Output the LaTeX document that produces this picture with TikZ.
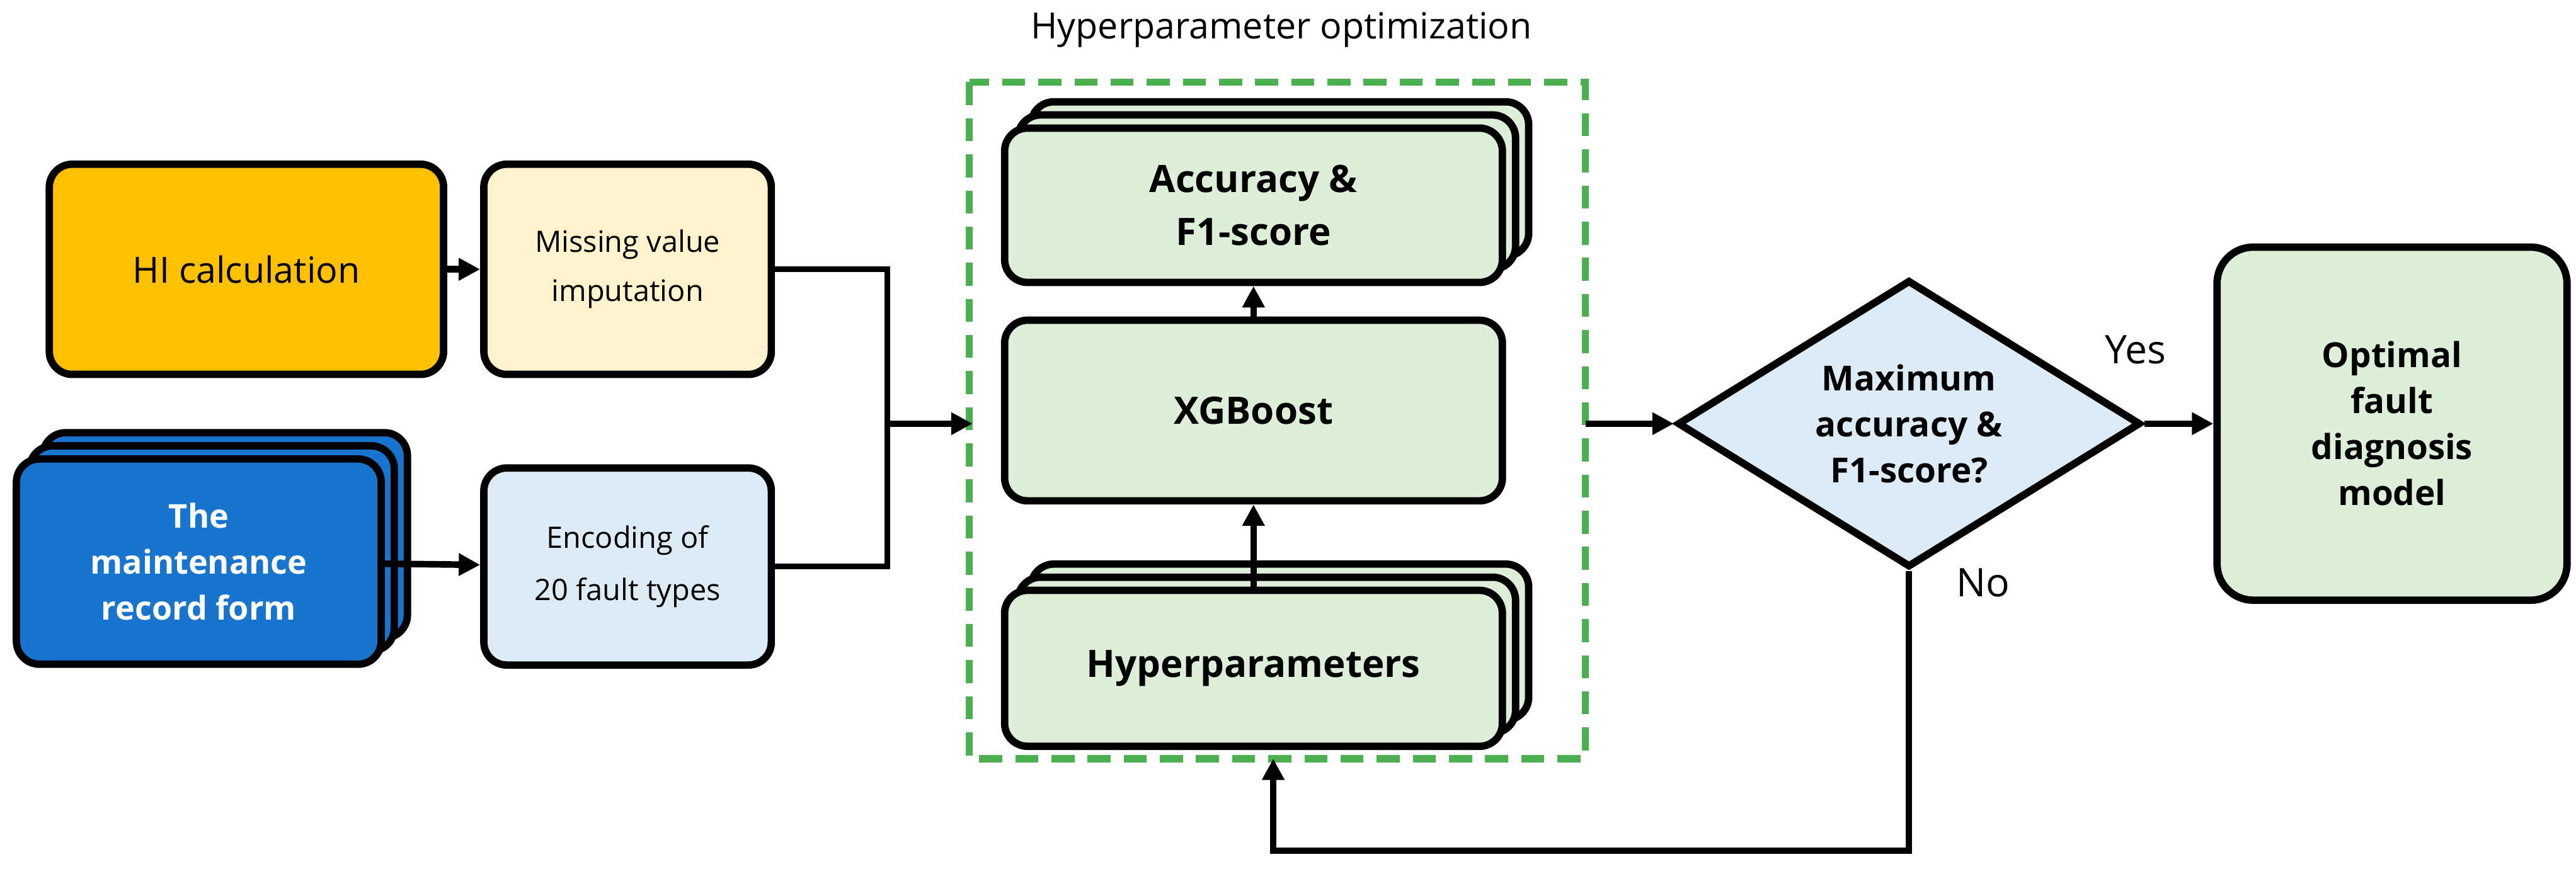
\documentclass[tikz,border=0pt]{standalone}
\usepackage{fontspec}
\setmainfont{Open Sans}
\usetikzlibrary{shapes.geometric,arrows.meta}
\definecolor{orng}{HTML}{FFC000}
\definecolor{cream}{HTML}{FFF2CC}
\definecolor{dblue}{HTML}{1874CD}
\definecolor{lblue}{HTML}{DDEBF7}
\definecolor{lgreen}{HTML}{DDEFD9}
\definecolor{dgreen}{HTML}{4CAF50}
\begin{document}
\begin{tikzpicture}[x=1pt,y=-1pt,
 box/.style={draw=black,line width=4.5pt,rounded corners=14pt,align=center,inner sep=2pt},
 arr/.style={line width=4pt,-{Triangle[length=13pt,width=13pt]}},
 ln/.style={line width=3.5pt}]
\useasboundingbox (0,0) rectangle (1568,532);
\node[font=\fontsize{22}{26}\selectfont] at (780,18) {Hyperparameter optimization};
\draw[dgreen,line width=4.5pt,dash pattern=on 14pt off 8pt] (590,50) rectangle (965,462);
% HI
\node[box,fill=orng,minimum width=240pt,minimum height=128pt,font=\fontsize{22}{26}\selectfont] (hi) at (150,164) {HI calculation};
\node[box,fill=cream,minimum width=175pt,minimum height=128pt,font=\fontsize{18}{30}\selectfont] (miss) at (382,164) {Missing value\\ imputation};
% maintenance stack
\foreach \d in {16,8}{\node[box,fill=dblue,minimum width=222pt,minimum height=125pt] at (121+\d,342-\d) {};}
\node[box,fill=dblue,text=white,font=\fontsize{20}{28}\selectfont\bfseries,minimum width=222pt,minimum height=125pt] (mr) at (121,342) {The\\ maintenance\\ record form};
\node[box,fill=lblue,minimum width=175pt,minimum height=120pt,font=\fontsize{18}{32}\selectfont] (enc) at (382,345) {Encoding of\\ 20 fault types};
% green stacks
\foreach \d in {16,8}{\node[box,fill=lgreen,minimum width=303pt,minimum height=94pt] at (763+\d,125-\d) {};}
\node[box,fill=lgreen,minimum width=303pt,minimum height=94pt,font=\fontsize{23}{32}\selectfont\bfseries] (acc) at (763,125) {Accuracy \&\\ F1-score};
\node[box,fill=lgreen,minimum width=303pt,minimum height=110pt,font=\fontsize{23}{30}\selectfont\bfseries] (xgb) at (763,250) {XGBoost};
\foreach \d in {16,8}{\node[box,fill=lgreen,minimum width=303pt,minimum height=95pt] at (763+\d,407-\d) {};}
\node[box,fill=lgreen,minimum width=303pt,minimum height=95pt,font=\fontsize{23}{30}\selectfont\bfseries] (hp) at (763,407) {Hyperparameters};
% diamond
\node[diamond,draw=black,line width=4.5pt,fill=lblue,minimum width=282pt,minimum height=175pt,inner sep=0pt,aspect=1.6] (dia) at (1162,258) {};
\node[align=center,font=\fontsize{21}{28}\selectfont\bfseries] at (1162,258) {Maximum\\ accuracy \&\\ F1-score?};
\node[box,fill=lgreen,minimum width=213pt,minimum height=215pt,rounded corners=22pt,font=\fontsize{21}{28}\selectfont\bfseries] (opt) at (1456,258) {Optimal\\ fault\\ diagnosis\\ model};
\node[font=\fontsize{24}{28}\selectfont] at (1300,213) {Yes};
\node[font=\fontsize{24}{28}\selectfont] at (1207,355) {No};
% connectors
\draw[arr] (hi) -- (miss);
\draw[arr] (mr) -- (enc);
\coordinate (j) at (540,258);
\coordinate (bin) at (592,258);
\draw[ln] (miss.east) -- (540,164) -- (j);
\draw[ln] (enc.east) -- (540,345) -- (j);
\draw[arr] (j) -- (bin);
\draw[arr] (hp) -- (xgb);
\draw[arr] (xgb) -- (acc);
\coordinate (bout) at (965,258);
\draw[arr] (bout) -- (dia.west);
\draw[arr] (dia.east) -- (opt);
\coordinate (bbot) at (775,462);
\draw[arr] (dia.south) -- (1162,518) -- (775,518) -- (bbot);
\end{tikzpicture}
\end{document}
